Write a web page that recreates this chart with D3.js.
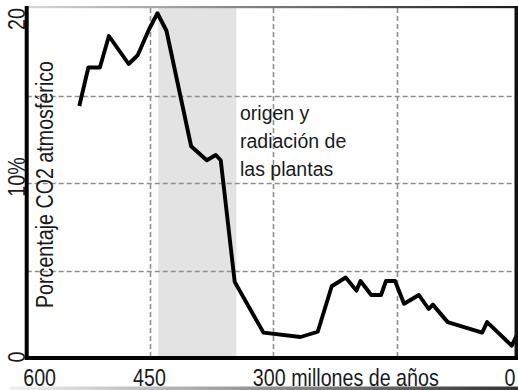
<!DOCTYPE html>
<html>
<head>
<meta charset="utf-8">
<script src="https://cdn.jsdelivr.net/npm/d3@7"></script>
<style>
  html, body { margin: 0; padding: 0; background: #fff; }
  svg { display: block; }
  text { font-family: "Liberation Sans", Arial, Helvetica, sans-serif; fill: #1a1a1a; }
</style>
</head>
<body>
<svg id="chart" width="518" height="390"></svg>
<script>
// Atmospheric CO2 over the last 600 million years (percent)
const ages = [536, 525, 511, 500, 476, 465, 451, 441, 430, 400, 381, 370, 364, 347,
              312, 267, 246, 229, 212, 199, 194, 181, 169, 163, 152, 141, 123, 111,
              106, 88, 46, 40, 10, 4];
const co2 = [14.4, 16.6, 16.6, 18.4, 16.8, 17.3, 18.8, 19.7, 18.7, 12.1, 11.3, 11.6, 11.3, 4.35,
             1.45, 1.2, 1.5, 4.1, 4.6, 3.85, 4.4, 3.6, 3.6, 4.4, 4.4, 3.1, 3.6, 2.8,
             3.05, 2.05, 1.45, 2.05, 0.7, 1.3];

// Period of plant origin and radiation
const plantPeriod = [440, 345];
const plantLabel = ["origen y", "radiación de", "las plantas"];

const xTicks = [600, 450, 300, 0];
const xTickLabels = ["600", "450", "300 millones de años", "0"];
const xGrid = [450, 300, 150];
const yGrid = [5, 10, 15];
const yTicks = [20, 10, 0];
const yTickLabels = ["20", "10%", "0"];
const yTitle = "Porcentaje CO2 atmosférico";

const svg = d3.select("#chart");
const W = 518;
const NARROW = 0.82;   // condensed axis lettering

const x = d3.scaleLinear().domain([600, 0]).range([26.7, 520]);
const y = d3.scaleLinear().domain([0, 20]).range([358, 8]);

const defs = svg.append("defs");
const gTop = defs.append("linearGradient").attr("id", "topEdge");
gTop.append("stop").attr("offset", "0%").attr("stop-color", "#d8d8d8");
gTop.append("stop").attr("offset", "100%").attr("stop-color", "#1a1a1a");
const gBot = defs.append("linearGradient").attr("id", "botEdge");
gBot.append("stop").attr("offset", "0%").attr("stop-color", "#f0f0f0");
gBot.append("stop").attr("offset", "100%").attr("stop-color", "#333");

// shaded band
svg.append("rect")
  .attr("x", x(plantPeriod[0]))
  .attr("y", y(20))
  .attr("width", x(plantPeriod[1]) - x(plantPeriod[0]))
  .attr("height", y(0) - y(20))
  .attr("fill", "#e3e3e3");

// dashed grid, snapped to whole pixels
const snap = v => Math.round(v) + 0.5;
const gridStyle = sel => sel
  .attr("fill", "none")
  .attr("stroke", "#8f8f8f")
  .attr("stroke-width", 1.6)
  .attr("stroke-dasharray", "5 3");

xGrid.forEach(v => {
  svg.append("line")
    .attr("x1", snap(x(v))).attr("x2", snap(x(v)))
    .attr("y1", y(20)).attr("y2", y(0))
    .call(gridStyle);
});
yGrid.forEach(v => {
  svg.append("line")
    .attr("x1", x(600)).attr("x2", 516)
    .attr("y1", snap(y(v))).attr("y2", snap(y(v)))
    .call(gridStyle);
});

// annotation
svg.append("text")
  .attr("x", 240)
  .attr("y", 120)
  .attr("font-size", 19.5)
  .selectAll("tspan").data(plantLabel).join("tspan")
  .attr("x", 240)
  .attr("dy", (d, i) => i === 0 ? 0 : 28)
  .text(d => d);

// data line
const pts = ages.map((a, i) => [a, co2[i]]);
svg.append("path")
  .datum(pts)
  .attr("fill", "none")
  .attr("stroke", "#000")
  .attr("stroke-width", 3.9)
  .attr("stroke-linejoin", "round")
  .attr("d", d3.line().x(d => x(d[0])).y(d => y(d[1])));

// frame edges
svg.append("rect").attr("x", 27).attr("y", 6).attr("width", 491).attr("height", 2.2)
  .attr("fill", "url(#topEdge)");
svg.append("rect").attr("x", 514.5).attr("y", 6).attr("width", 3.5).attr("height", 354)
  .attr("fill", "#111");
svg.append("rect").attr("x", 10).attr("y", 386.5).attr("width", 508).attr("height", 3.5)
  .attr("fill", "url(#botEdge)");

// x axis labels
const xAxis = d3.axisBottom(x)
  .tickValues(xTicks)
  .tickSize(0)
  .tickPadding(0)
  .tickFormat((d, i) => xTickLabels[i]);
const gx = svg.append("g").attr("transform", `translate(0,${y(0)})`).call(xAxis);
gx.select(".domain").remove();
const xShift = [-4, -1, -21, -5];
gx.selectAll(".tick text")
  .attr("fill", "#1a1a1a")
  .attr("font-family", "Liberation Sans, Arial, sans-serif")
  .attr("font-size", 24)
  .attr("dy", 0)
  .attr("y", 28)
  .attr("transform", `scale(${NARROW},1)`)
  .attr("text-anchor", (d, i) => i === 0 || i === 2 ? "start" : (i === 3 ? "end" : "middle"))
  .attr("dx", (d, i) => xShift[i] / NARROW);

svg.append("line")
  .attr("x1", 25).attr("x2", W).attr("y1", y(0)).attr("y2", y(0))
  .attr("stroke", "#000").attr("stroke-width", 4);
svg.append("line")
  .attr("x1", x(600)).attr("x2", x(600)).attr("y1", 6).attr("y2", y(0) + 2)
  .attr("stroke", "#000").attr("stroke-width", 4);

// y tick labels (rotated)
const yLabelPos = [19, 177, 357];
svg.selectAll("text.ytick").data(yTicks).join("text")
  .attr("class", "ytick")
  .attr("font-size", 24)
  .attr("text-anchor", "middle")
  .attr("transform", (d, i) => `translate(25,${yLabelPos[i]}) rotate(-90) scale(${NARROW},1)`)
  .text((d, i) => yTickLabels[i]);

// y title
svg.append("text")
  .attr("font-size", 24)
  .attr("text-anchor", "middle")
  .attr("transform", `translate(53,${(62 + 307) / 2}) rotate(-90) scale(${NARROW},1)`)
  .text(yTitle);
</script>
</body>
</html>
